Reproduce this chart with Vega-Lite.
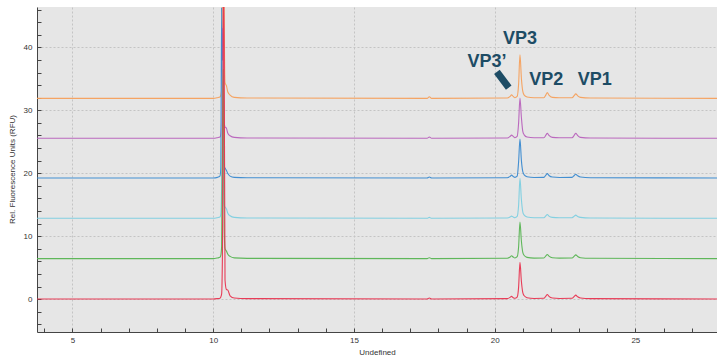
{
  "$schema": "https://vega.github.io/schema/vega-lite/v6.json",
  "width": 680,
  "height": 325,
  "autosize": {"type": "none"},
  "padding": {"left": 37, "top": 7, "right": 0, "bottom": 24},
  "background": "white",
  "config": {"view": {"fill": "#e6e6e6", "stroke": null}, "font": "Liberation Sans"},
  "layer": [
    {
      "data": {"values": [
        {"t": 3.74, "s1": 31.9, "s2": 25.55, "s3": 19.25, "s4": 12.85, "s5": 6.45, "s6": 0.05},
        {"t": 10.0, "s1": 31.9, "s2": 25.55, "s3": 19.25, "s4": 12.85, "s5": 6.45, "s6": 0.05},
        {"t": 10.15, "s1": 32.0, "s2": 25.65, "s3": 19.35, "s4": 12.95, "s5": 6.55, "s6": 0.1},
        {"t": 10.24, "s1": 32.1, "s2": 25.75, "s3": 19.55, "s4": 13.05, "s5": 6.65, "s6": 0.15},
        {"t": 10.27, "s1": 32.4, "s2": 26.15, "s3": 20.75, "s4": 13.45, "s5": 6.95, "s6": 0.35},
        {"t": 10.30, "s1": 33.4, "s2": 28.55, "s3": 46.25, "s4": 17.85, "s5": 8.45, "s6": 0.85},
        {"t": 10.33, "s1": 51.9, "s2": 43.05, "s3": 31.25, "s4": 37.85, "s5": 26.45, "s6": 8.05},
        {"t": 10.36, "s1": 91.9, "s2": 35.55, "s3": 22.25, "s4": 20.85, "s5": 36.45, "s6": 50.05},
        {"t": 10.39, "s1": 46.9, "s2": 28.05, "s3": 21.05, "s4": 14.85, "s5": 11.45, "s6": 40.05},
        {"t": 10.42, "s1": 34.4, "s2": 27.35, "s3": 20.85, "s4": 14.65, "s5": 8.05, "s6": 3.05},
        {"t": 10.47, "s1": 33.9, "s2": 27.15, "s3": 20.45, "s4": 14.35, "s5": 7.65, "s6": 1.55},
        {"t": 10.52, "s1": 32.9, "s2": 26.35, "s3": 19.95, "s4": 13.65, "s5": 7.15, "s6": 1.45},
        {"t": 10.6, "s1": 32.4, "s2": 25.95, "s3": 19.55, "s4": 13.25, "s5": 6.8, "s6": 0.55},
        {"t": 10.75, "s1": 32.05, "s2": 25.7, "s3": 19.35, "s4": 13.0, "s5": 6.57, "s6": 0.2},
        {"t": 11.2, "s1": 31.95, "s2": 25.6, "s3": 19.28, "s4": 12.9, "s5": 6.49, "s6": 0.1},
        {"t": 17.6, "s1": 31.9, "s2": 25.55, "s3": 19.25, "s4": 12.85, "s5": 6.45, "s6": 0.05},
        {"t": 17.68, "s1": 32.15, "s2": 25.75, "s3": 19.4, "s4": 13.0, "s5": 6.6, "s6": 0.2},
        {"t": 17.76, "s1": 31.9, "s2": 25.55, "s3": 19.25, "s4": 12.85, "s5": 6.45, "s6": 0.05},
        {"t": 20.45, "s1": 31.95, "s2": 25.6, "s3": 19.3, "s4": 12.9, "s5": 6.5, "s6": 0.1},
        {"t": 20.55, "s1": 32.2, "s2": 25.85, "s3": 19.5, "s4": 13.05, "s5": 6.7, "s6": 0.3},
        {"t": 20.6, "s1": 32.45, "s2": 26.05, "s3": 19.7, "s4": 13.2, "s5": 6.9, "s6": 0.45},
        {"t": 20.66, "s1": 32.2, "s2": 25.85, "s3": 19.5, "s4": 13.05, "s5": 6.7, "s6": 0.25},
        {"t": 20.72, "s1": 32.0, "s2": 25.65, "s3": 19.35, "s4": 12.95, "s5": 6.55, "s6": 0.15},
        {"t": 20.8, "s1": 32.2, "s2": 25.85, "s3": 19.55, "s4": 13.15, "s5": 6.75, "s6": 0.35},
        {"t": 20.85, "s1": 34.1, "s2": 27.9, "s3": 21.75, "s4": 14.85, "s5": 8.25, "s6": 1.85},
        {"t": 20.9, "s1": 38.8, "s2": 31.95, "s3": 25.45, "s4": 19.2, "s5": 12.25, "s6": 5.85},
        {"t": 20.95, "s1": 35.1, "s2": 28.9, "s3": 22.05, "s4": 15.85, "s5": 9.25, "s6": 2.85},
        {"t": 21.0, "s1": 33.0, "s2": 26.65, "s3": 20.25, "s4": 13.85, "s5": 7.45, "s6": 1.05},
        {"t": 21.05, "s1": 32.4, "s2": 26.1, "s3": 19.75, "s4": 13.35, "s5": 6.95, "s6": 0.55},
        {"t": 21.15, "s1": 32.1, "s2": 25.75, "s3": 19.45, "s4": 13.05, "s5": 6.65, "s6": 0.25},
        {"t": 21.4, "s1": 31.98, "s2": 25.63, "s3": 19.33, "s4": 12.93, "s5": 6.53, "s6": 0.13},
        {"t": 21.75, "s1": 32.0, "s2": 25.65, "s3": 19.35, "s4": 12.95, "s5": 6.55, "s6": 0.15},
        {"t": 21.82, "s1": 32.45, "s2": 26.05, "s3": 19.7, "s4": 13.25, "s5": 6.9, "s6": 0.5},
        {"t": 21.87, "s1": 32.8, "s2": 26.35, "s3": 19.95, "s4": 13.45, "s5": 7.1, "s6": 0.75},
        {"t": 21.93, "s1": 32.4, "s2": 26.0, "s3": 19.65, "s4": 13.2, "s5": 6.85, "s6": 0.45},
        {"t": 22.05, "s1": 32.05, "s2": 25.7, "s3": 19.4, "s4": 13.0, "s5": 6.6, "s6": 0.2},
        {"t": 22.3, "s1": 31.98, "s2": 25.63, "s3": 19.33, "s4": 12.93, "s5": 6.53, "s6": 0.13},
        {"t": 22.75, "s1": 32.0, "s2": 25.65, "s3": 19.35, "s4": 12.95, "s5": 6.55, "s6": 0.15},
        {"t": 22.83, "s1": 32.35, "s2": 26.05, "s3": 19.65, "s4": 13.2, "s5": 6.85, "s6": 0.45},
        {"t": 22.88, "s1": 32.6, "s2": 26.35, "s3": 19.85, "s4": 13.35, "s5": 7.05, "s6": 0.65},
        {"t": 22.95, "s1": 32.3, "s2": 26.0, "s3": 19.6, "s4": 13.15, "s5": 6.8, "s6": 0.4},
        {"t": 23.05, "s1": 32.05, "s2": 25.7, "s3": 19.4, "s4": 13.0, "s5": 6.6, "s6": 0.2},
        {"t": 23.4, "s1": 31.95, "s2": 25.6, "s3": 19.3, "s4": 12.9, "s5": 6.5, "s6": 0.1},
        {"t": 27.9, "s1": 31.9, "s2": 25.55, "s3": 19.25, "s4": 12.85, "s5": 6.45, "s6": 0.05}
      ]},
      "transform": [{"fold": ["s1", "s2", "s3", "s4", "s5", "s6"], "as": ["series", "rfu"]}],
      "mark": {"type": "line", "strokeWidth": 1.1, "clip": true, "opacity": 0.95, "interpolate": "monotone"},
      "encoding": {
        "x": {"field": "t", "type": "quantitative",
          "scale": {"domain": [3.74, 27.9], "nice": false, "zero": false},
          "axis": {"orient": "bottom", "values": [5, 10, 15, 20, 25], "ticks": false, "grid": true,
            "gridColor": "#c4c4c4", "gridDash": [2, 2], "gridWidth": 1,
            "domainColor": "#444444", "labelFontSize": 8, "labelColor": "#333333", "labelPadding": 4,
            "title": "Undefined", "titleFontSize": 8, "titleFontWeight": "normal", "titleColor": "#333333",
            "titleX": 340, "titleY": 20, "titleBaseline": "middle", "titleAlign": "center"}},
        "y": {"field": "rfu", "type": "quantitative",
          "scale": {"domain": [-5.2, 46.4], "nice": false, "zero": false},
          "axis": {"orient": "left", "values": [0, 10, 20, 30, 40], "ticks": false, "grid": true,
            "gridColor": "#c4c4c4", "gridDash": [2, 2], "gridWidth": 1,
            "domainColor": "#444444", "labelFontSize": 8, "labelColor": "#333333", "labelPadding": 5,
            "title": "Rel. Fluorescence Units (RFU)", "titleFontSize": 8, "titleFontWeight": "normal", "titleColor": "#333333",
            "titleX": -25, "titleY": 162, "titleBaseline": "middle", "titleAlign": "center", "titleAngle": -90}},
        "color": {"field": "series", "type": "nominal",
          "scale": {"domain": ["s1", "s2", "s3", "s4", "s5", "s6"],
            "range": ["#f5a05c", "#b862bc", "#3a8ad0", "#7dcfe0", "#57b452", "#e8334f"]},
          "legend": null}
      }
    },
    {
      "data": {"values": [{"t": 20.08, "rfu": 36.1}, {"t": 20.5, "rfu": 33.6}]},
      "mark": {"type": "line", "strokeWidth": 7, "strokeCap": "butt", "color": "#1d4c65"},
      "encoding": {
        "x": {"field": "t", "type": "quantitative",
          "scale": {"domain": [3.74, 27.9], "nice": false, "zero": false},
          "axis": {"orient": "bottom", "values": [4, 5, 6, 7, 8, 9, 10, 11, 12, 13, 14, 15, 16, 17, 18, 19, 20, 21, 22, 23, 24, 25, 26, 27],
            "labels": false, "grid": false, "domain": false, "ticks": true, "tickSize": 4, "offset": -4, "tickColor": "#444444", "title": null}},
        "y": {"field": "rfu", "type": "quantitative",
          "scale": {"domain": [-5.2, 46.4], "nice": false, "zero": false},
          "axis": {"orient": "left", "values": [-4, -2, 0, 2, 4, 6, 8, 10, 12, 14, 16, 18, 20, 22, 24, 26, 28, 30, 32, 34, 36, 38, 40, 42, 44, 46],
            "labels": false, "grid": false, "domain": false, "ticks": true, "tickSize": 4, "offset": -4, "tickColor": "#444444", "title": null}}
      }
    },
    {
      "data": {"values": [
        {"label": "VP3", "t": 20.9, "rfu": 41.3},
        {"label": "VP3’", "t": 19.73, "rfu": 37.6},
        {"label": "VP2", "t": 21.83, "rfu": 34.8},
        {"label": "VP1", "t": 23.56, "rfu": 34.8}
      ]},
      "mark": {"type": "text", "fontSize": 18, "fontWeight": "bold", "color": "#1d4c65", "align": "center", "baseline": "middle", "font": "Liberation Sans"},
      "encoding": {
        "x": {"field": "t", "type": "quantitative", "axis": null},
        "y": {"field": "rfu", "type": "quantitative", "axis": null},
        "text": {"field": "label"}
      }
    }
  ],
  "resolve": {"axis": {"x": "independent", "y": "independent"}}
}
